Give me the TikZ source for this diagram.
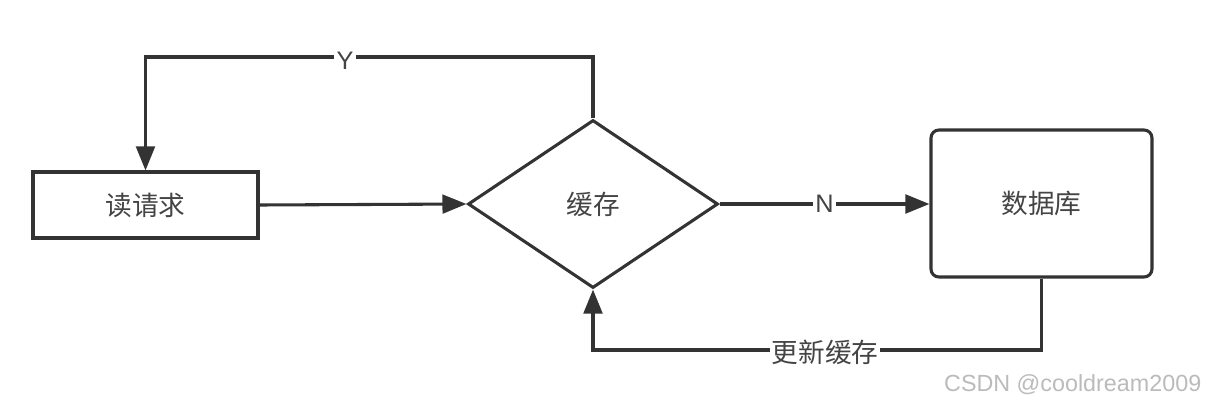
\documentclass[tikz,border=0pt]{standalone}
\usepackage{fontspec}
\setmainfont{Liberation Sans}
\newfontfamily\cjk{Noto Sans CJK SC}
\usetikzlibrary{arrows.meta,shapes.geometric}
\definecolor{ln}{HTML}{333333}
\definecolor{tx}{HTML}{444444}
\definecolor{wm}{HTML}{BBBBBB}
\tikzset{
  conn/.style={draw=ln, line width=2.3pt, -{Triangle[length=18pt,width=14pt]}},
  boxnode/.style={draw=ln, line width=2.3pt, fill=white, inner sep=0pt, text=tx, font=\cjk\fontsize{20}{24}\selectfont},
  lbl/.style={fill=white, text=tx, font=\cjk\fontsize{20}{24}\selectfont, inner sep=1.5pt},
  latlbl/.style={fill=white, text=tx, font=\fontsize{19}{22}\selectfont, inner sep=2pt},
}
\begin{document}
\begin{tikzpicture}[x=0.75pt,y=-0.75pt]
\useasboundingbox (0,0) rectangle (1208,404);
\fill[white] (0,0) rectangle (1208,404);
\node[boxnode, minimum width=168.75pt, minimum height=49.5pt] (req) at (145.5,205) {读请求};
\node[boxnode, diamond, minimum width=187.5pt, minimum height=126pt, aspect=1.49] (cache) at (593,204) {缓存};
\node[boxnode, rounded corners=6pt, minimum width=165.75pt, minimum height=110.25pt] (db) at (1041.5,203.5) {数据库};
\coordinate (c1) at (593,57);
\coordinate (c2) at (145.5,57);
\coordinate (c3) at (1041.5,350);
\coordinate (c4) at (593,350);
\draw[conn] (req.east) -- (cache.west);
\draw[conn] (cache.east) -- node[latlbl, pos=0.5] {N} (db.west |- cache.east);
\draw[conn] (cache.north) -- (c1) -- (c2) -- (req.north);
\node[latlbl] (ylbl) at (345,61) {Y};
\draw[conn] (db.south) -- (c3) -- (c4) -- (cache.south);
\node[lbl] (upd) at (825,352) {更新缓存};
\node[text=wm, font=\fontsize{17.5}{20}\selectfont, anchor=east] (wmk) at (1206,385) {CSDN @cooldream2009};
\end{tikzpicture}
\end{document}
